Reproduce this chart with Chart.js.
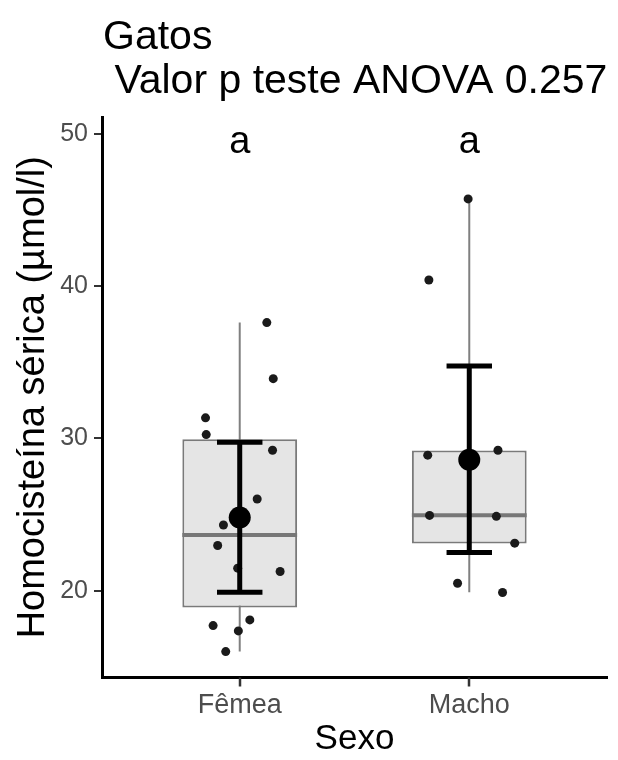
<!DOCTYPE html>
<html>
<head>
<meta charset="utf-8">
<script src="https://cdn.jsdelivr.net/npm/chart.js@4.4.0/dist/chart.umd.min.js"></script>
<style>
  html, body { margin: 0; padding: 0; background: #fff; overflow: hidden; }
  canvas { display: block; }
</style>
</head>
<body>
<canvas id="chartGatos" width="618" height="760"></canvas>
<script>
// dados
const grupos = ['Fêmea', 'Macho'];
const posicoes = [1, 2];
const yTicks = [20, 30, 40, 50];

// boxplot
const q1 = [18.9, 23.1];
const mediana = [23.65, 24.95];
const q3 = [29.95, 29.2];
const bigodeMin = [16.0, 19.9];
const bigodeMax = [37.6, 45.7];

// média +- desvio
const media = [24.8, 28.6];
const erroMin = [19.9, 22.5];
const erroMax = [29.75, 34.75];

const letras = ['a', 'a'];
const letraY = 49.4;

// pontos com jitter
const femeaX = [1.118, 1.146, 0.851, 0.854, 1.143, 1.076, 0.929, 0.904, 0.991, 1.176, 1.044, 0.884, 0.994, 0.939];
const femeaY = [37.6, 33.92, 31.35, 30.25, 29.22, 26.02, 24.31, 22.97, 21.48, 21.26, 18.08, 17.71, 17.36, 16.0];
const machoX = [1.995, 1.824, 1.819, 2.125, 1.827, 2.118, 2.198, 1.949, 2.145];
const machoY = [45.72, 40.4, 28.9, 29.22, 24.94, 24.88, 23.12, 20.49, 19.88];

const titulo = ['Gatos', ' Valor p teste ANOVA 0.257'];

const FONTE = "'Liberation Sans', Arial, sans-serif";
Chart.defaults.font.family = FONTE;

const caixas = posicoes.map((x, i) => ({ x: x, y: [q1[i], q3[i]] }));
const pontos = femeaX.map((x, i) => ({ x: x, y: femeaY[i] }))
   .concat(machoX.map((x, i) => ({ x: x, y: machoY[i] })));
const medias = posicoes.map((x, i) => ({ x: x, y: media[i] }));

const linha = (ctx, x1, y1, x2, y2) => {
   ctx.beginPath();
   ctx.moveTo(x1, y1);
   ctx.lineTo(x2, y2);
   ctx.stroke();
};

const boxExtras = {
   id: 'boxExtras',
   beforeDatasetsDraw(chart) {
      const { ctx, scales: { x, y } } = chart;
      ctx.save();
      ctx.strokeStyle = '#808080';
      ctx.lineWidth = 2;
      posicoes.forEach((p, i) => {
         const px = x.getPixelForValue(p);
         linha(ctx, px, y.getPixelForValue(bigodeMin[i]), px, y.getPixelForValue(bigodeMax[i]));
      });
      ctx.restore();
   },
   afterDatasetDraw(chart, args) {
      const { ctx, scales: { x, y } } = chart;
      ctx.save();
      if (args.index === 0) {
         ctx.strokeStyle = '#777';
         ctx.lineWidth = 4;
         posicoes.forEach((p, i) => {
            const py = y.getPixelForValue(mediana[i]);
            linha(ctx, x.getPixelForValue(p - 0.25), py, x.getPixelForValue(p + 0.25), py);
         });
      }
      if (args.index === 1) {
         ctx.strokeStyle = '#000';
         ctx.lineWidth = 5;
         posicoes.forEach((p, i) => {
            const px = x.getPixelForValue(p);
            const yLo = y.getPixelForValue(erroMin[i]);
            const yHi = y.getPixelForValue(erroMax[i]);
            linha(ctx, px, yLo, px, yHi);
            linha(ctx, x.getPixelForValue(p - 0.099), yLo, x.getPixelForValue(p + 0.099), yLo);
            linha(ctx, x.getPixelForValue(p - 0.099), yHi, x.getPixelForValue(p + 0.099), yHi);
         });
      }
      ctx.restore();
   },
   afterDraw(chart) {
      const { ctx, chartArea, scales: { x, y } } = chart;
      ctx.save();
      // marcas do eixo x (por cima de tudo)
      ctx.strokeStyle = '#333';
      ctx.lineWidth = 2.5;
      posicoes.forEach(p => {
         const px = Math.round(x.getPixelForValue(p));
         linha(ctx, px, chartArea.bottom, px, chartArea.bottom + 9);
      });
      ctx.fillStyle = '#000';
      ctx.font = '38px ' + FONTE;
      ctx.textAlign = 'center';
      ctx.textBaseline = 'middle';
      posicoes.forEach((p, i) => {
         ctx.fillText(letras[i], x.getPixelForValue(p), y.getPixelForValue(letraY));
      });
      ctx.font = '41px ' + FONTE;
      ctx.textAlign = 'left';
      ctx.textBaseline = 'alphabetic';
      ctx.fillText(titulo[0], chartArea.left + 1, 49);
      ctx.fillText(titulo[1], chartArea.left + 1, 92.5);
      ctx.restore();
   }
};

const ctx = document.getElementById('chartGatos').getContext('2d');
const chartGatos = new Chart(ctx, {
   type: 'bar',
   data: {
      datasets: [{
         type: 'bar',
         data: caixas,
         backgroundColor: '#e5e5e5',
         borderColor: '#7a7a7a',
         borderWidth: 2,
         borderSkipped: false,
         barPercentage: 0.5,
         categoryPercentage: 1,
         order: 3
      }, {
         type: 'scatter',
         data: pontos,
         pointRadius: 4.5,
         pointBackgroundColor: '#1a1a1a',
         pointBorderWidth: 0,
         order: 2
      }, {
         type: 'scatter',
         data: medias,
         pointRadius: 11,
         pointBackgroundColor: '#000',
         pointBorderWidth: 0,
         order: 1
      }]
   },
   options: {
      responsive: false,
      animation: false,
      layout: { padding: { top: 117, right: 2, bottom: 0, left: 0 } },
      scales: {
         x: {
            type: 'linear',
            min: 0.4,
            max: 2.6,
            offset: false,
            bounds: 'data',
            afterBuildTicks: axis => { axis.ticks = posicoes.map(v => ({ value: v })); },
            afterFit: axis => {
               axis.height = 82.5;
               axis.paddingLeft = 0;
               axis.paddingRight = 0;
            },
            grid: { offset: false, drawOnChartArea: false, drawTicks: true, tickLength: 8, color: '#333', lineWidth: 2 },
            border: { display: true, color: '#000', width: 3 },
            ticks: {
               color: '#4d4d4d',
               font: { size: 27 },
               padding: 4,
               maxRotation: 0,
               autoSkip: false,
               callback: (value, index) => grupos[index]
            },
            title: {
               display: true,
               text: 'Sexo',
               color: '#000',
               font: { size: 35, lineHeight: 1 },
               padding: { top: 0, bottom: 3 }
            }
         },
         y: {
            min: 14.3,
            max: 51.1,
            bounds: 'data',
            afterBuildTicks: axis => { axis.ticks = yTicks.map(v => ({ value: v })); },
            afterFit: axis => { axis.width = 102; },
            grid: { drawOnChartArea: false, drawTicks: true, tickLength: 8, color: '#333', lineWidth: 2 },
            border: { display: true, color: '#000', width: 3 },
            ticks: { color: '#4d4d4d', font: { size: 25 }, padding: 6 },
            title: {
               display: true,
               text: 'Homocisteína sérica (µmol/l)',
               color: '#000',
               font: { size: 38 },
               padding: { top: 11, bottom: 0 }
            }
         }
      },
      plugins: {
         legend: { display: false },
         tooltip: { enabled: false },
         title: { display: false }
      }
   },
   plugins: [boxExtras]
});
</script>
</body>
</html>
